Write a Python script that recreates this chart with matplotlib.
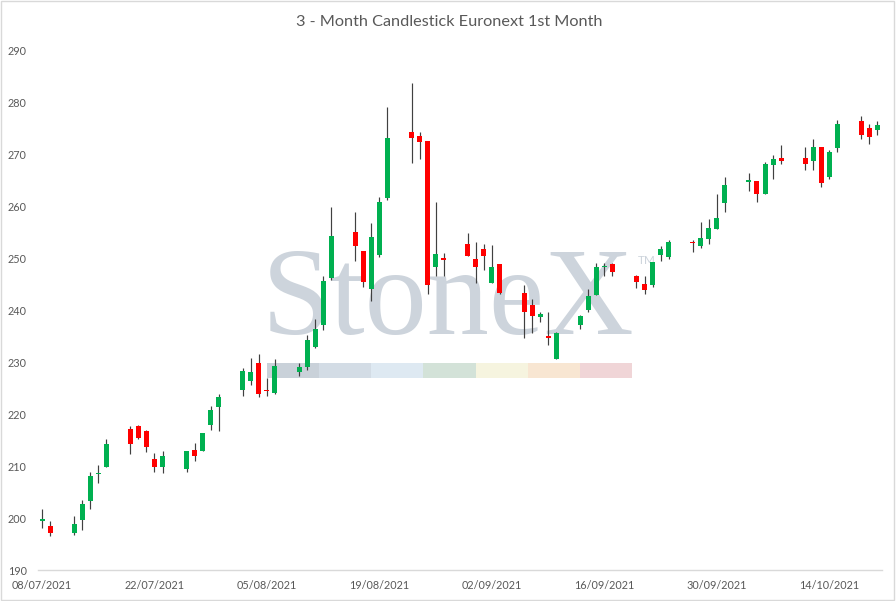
import matplotlib
matplotlib.use('Agg')
import matplotlib.pyplot as plt
import matplotlib.dates as mdates
from matplotlib.patches import Rectangle
import numpy as np
import pandas as pd

TITLE = '3 - Month Candlestick Euronext 1st Month'

dates = [
    '08/07', '09/07', '12/07', '13/07', '14/07', '15/07', '16/07',
    '19/07', '20/07', '21/07', '22/07', '23/07', '26/07', '27/07', '28/07', '29/07', '30/07',
    '02/08', '03/08', '04/08', '05/08', '06/08', '09/08', '10/08', '11/08', '12/08', '13/08',
    '16/08', '17/08', '18/08', '19/08', '20/08', '23/08', '24/08', '25/08', '26/08', '27/08',
    '30/08', '31/08', '01/09', '02/09', '03/09', '06/09', '07/09', '08/09', '09/09', '10/09',
    '13/09', '14/09', '15/09', '16/09', '17/09', '20/09', '21/09', '22/09', '23/09', '24/09',
    '27/09', '28/09', '29/09', '30/09', '01/10', '04/10', '05/10', '06/10', '07/10', '08/10',
    '11/10', '12/10', '13/10', '14/10', '15/10', '18/10', '19/10', '20/10',
]
opens = [
    199.5, 198.5, 197.2, 199.6, 203.3, 208.4, 209.9,
    217.2, 217.6, 216.8, 211.4, 209.9, 209.4, 213.1, 212.9, 217.8, 221.3,
    224.7, 226.4, 229.8, 224.7, 224.1, 228.1, 229.0, 232.9, 237.2, 246.2,
    255.0, 251.3, 244.1, 250.6, 261.5, 274.2, 273.5, 272.5, 248.3, 250.0,
    252.7, 249.8, 251.7, 245.1, 248.8, 243.3, 241.0, 238.6, 235.0, 230.6,
    237.1, 240.0, 242.9, 248.3, 248.8, 246.5, 245.0, 244.9, 250.6, 250.1,
    253.1, 252.4, 253.7, 255.5, 260.5, 264.7, 264.8, 262.4, 267.8, 269.2,
    269.2, 268.7, 271.3, 265.6, 271.2, 276.3, 275.0, 274.7,
]
highs = [
    201.7, 199.4, 200.4, 203.5, 208.9, 210.1, 215.1,
    217.6, 217.9, 217.0, 212.5, 212.9, 212.9, 214.5, 216.4, 221.5, 223.9,
    228.9, 230.8, 231.5, 226.9, 230.6, 229.8, 235.2, 238.2, 246.5, 259.8,
    258.8, 251.3, 256.7, 261.7, 279.0, 283.7, 274.2, 272.5, 260.8, 251.0,
    254.8, 253.1, 252.7, 252.5, 248.8, 244.8, 242.2, 239.7, 239.7, 235.8,
    239.0, 244.0, 249.0, 249.0, 249.0, 246.8, 246.5, 249.2, 252.3, 253.4,
    253.5, 257.0, 257.5, 262.4, 265.5, 266.3, 264.8, 268.4, 269.8, 271.7,
    271.3, 272.8, 271.3, 270.7, 276.5, 277.4, 275.8, 276.3,
]
lows = [
    198.0, 196.6, 196.7, 197.6, 201.7, 206.8, 209.9,
    212.4, 215.1, 212.7, 208.8, 208.7, 208.8, 211.0, 212.9, 216.9, 216.7,
    223.5, 225.6, 223.3, 223.5, 223.9, 227.3, 228.5, 232.6, 236.2, 245.7,
    249.4, 244.4, 241.8, 250.2, 261.2, 268.2, 269.1, 243.0, 246.5, 246.5,
    250.4, 245.1, 247.6, 245.1, 243.1, 234.6, 235.6, 237.6, 233.3, 230.6,
    236.4, 239.7, 242.9, 246.5, 246.5, 244.3, 243.0, 244.4, 249.4, 249.9,
    251.2, 251.9, 252.6, 255.5, 258.9, 262.9, 260.8, 262.4, 265.1, 268.0,
    267.0, 267.0, 263.7, 265.1, 270.4, 272.8, 272.0, 273.7,
]
closes = [
    199.8, 197.1, 198.8, 202.6, 208.1, 208.7, 214.3,
    214.2, 215.3, 213.6, 209.9, 211.9, 212.9, 211.9, 216.3, 220.8, 223.3,
    228.3, 228.1, 223.9, 224.5, 229.2, 229.0, 234.2, 236.3, 245.6, 254.2,
    252.3, 245.4, 254.0, 260.8, 273.1, 273.1, 272.4, 244.9, 250.7, 249.7,
    250.4, 248.3, 250.4, 248.3, 243.3, 239.6, 238.9, 239.2, 234.7, 235.6,
    238.8, 242.7, 248.3, 248.5, 247.4, 245.4, 243.9, 249.2, 251.7, 253.1,
    252.8, 253.8, 255.7, 257.7, 264.0, 265.0, 262.4, 268.1, 269.0, 268.7,
    268.1, 271.3, 264.5, 270.4, 275.8, 273.7, 273.3, 275.6,
]

UP = '#00B050'
DOWN = '#FF0000'
WICK = '#404040'
TEXT = '#595959'
WATERMARK = '#CDD4DC'
strip_colors = ['#C9D1D9', '#D3DCE5', '#DEE9F2', '#D3E2D8', '#F6F4DF', '#F8E6D2', '#F0D5D7']

W, H = 896, 601
fig = plt.figure(figsize=(W / 100, H / 100), dpi=100)
plt.rcParams['font.family'] = ['Lato', 'DejaVu Sans']


def fx(px):
    return px / W


def fy(py):
    return 1 - py / H


ax = fig.add_axes([fx(38), fy(570), fx(881.5) - fx(38), fy(50) - fy(570)])

x = mdates.date2num(pd.to_datetime([d + '/2021' for d in dates], format='%d/%m/%Y'))
o = np.array(opens)
h = np.array(highs)
l = np.array(lows)
c = np.array(closes)
up = c >= o

# watermark behind the candles
ax.text(fx(262), fy(334), 'StoneX', transform=fig.transFigure, fontsize=89.5,
        family='Liberation Serif', color=WATERMARK, ha='left', va='baseline', zorder=0)
ax.text(fx(638), fy(264), 'TM', transform=fig.transFigure, fontsize=8.5,
        color=WATERMARK, ha='left', va='baseline', zorder=0)
seg_w = (632 - 267) / len(strip_colors)
for i, col in enumerate(strip_colors):
    ax.add_patch(Rectangle((fx(267 + i * seg_w), fy(378)), fx(seg_w), fy(363) - fy(378),
                           transform=fig.transFigure, facecolor=col, edgecolor='none', zorder=0))

ax.vlines(x, l, h, color=WICK, lw=0.85, zorder=2)
body = np.where(np.abs(c - o) < 0.15, 0.15, c - o)
ax.bar(x, body, bottom=o, width=0.62, color=np.where(up, UP, DOWN), zorder=3, linewidth=0)

ax.set_xlim(x[0] - 0.5, x[-1] + 0.5)
ax.set_ylim(190, 290)
ax.set_yticks(np.arange(190, 291, 10))
ax.set_xticks(np.arange(x[0], x[-1] + 1, 14))
ax.xaxis.set_major_formatter(mdates.DateFormatter('%d/%m/%Y'))
ax.tick_params(length=0, labelsize=7.8, labelcolor=TEXT)
ax.tick_params(axis='y', pad=8)
ax.tick_params(axis='x', pad=7)
for side in ['top', 'left', 'right']:
    ax.spines[side].set_visible(False)
ax.spines['bottom'].set_color('#D9D9D9')
ax.spines['bottom'].set_linewidth(1)

fig.text(fx(449), fy(21.5), TITLE, ha='center', va='center', fontsize=11.7, color=TEXT)
fig.add_artist(Rectangle((0.001, 0.001), 0.997, 0.997, transform=fig.transFigure,
                         fill=False, edgecolor='#D9D9D9', lw=1))

fig.savefig('out.png', dpi=100)
